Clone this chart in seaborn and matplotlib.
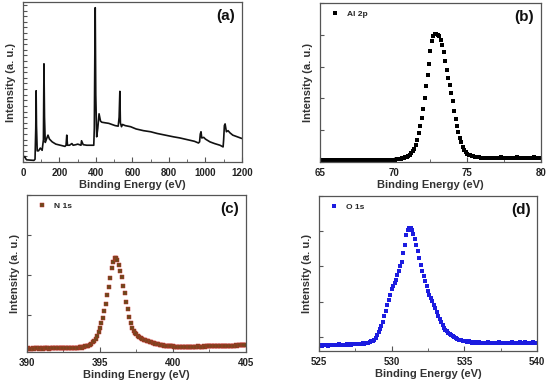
import numpy as np
import matplotlib
matplotlib.use("Agg")
import matplotlib.pyplot as plt
import seaborn as sns
from matplotlib.ticker import MultipleLocator

# ── Style ───────────────────────────────────────────────────
sns.set_theme(style="ticks")
plt.rcParams['font.family'] = ['Liberation Sans', 'DejaVu Sans']
plt.rcParams['font.weight'] = 'bold'

# ── Data: (a) survey spectrum ───────────────────────────────
survey_energy = [0, 5, 10, 15, 20, 40, 60, 66, 70, 72, 74, 78, 85, 95, 105,
                 112, 115, 118, 122, 130, 137, 145, 160, 180, 205, 230, 236,
                 240, 244, 255, 268, 275, 290, 300, 318, 321, 330, 350, 370,
                 388, 391, 394, 396, 399, 404, 410, 417, 425, 432, 450, 470,
                 505, 522, 527, 531, 534, 540, 546, 560, 590, 620, 660, 700,
                 735, 780, 825, 860, 900, 940, 962, 968, 972, 976, 980, 991,
                 1000, 1025, 1050, 1080, 1097, 1100, 1104, 1108, 1115, 1124,
                 1135, 1150, 1175, 1200]
survey_counts = [0.7, 0.9, 1.0, 0.6, 0.4, 0.35, 0.3, 0.5, 6.0, 12.7, 6.5, 2.0,
                 2.0, 2.5, 2.1, 4.0, 17.5, 8.0, 3.5, 4.2, 4.8, 4.1, 3.6, 3.2,
                 3.0, 2.8, 3.0, 4.8, 3.0, 3.0, 3.3, 3.0, 3.1, 3.2, 3.0, 3.8,
                 3.1, 3.0, 3.0, 3.0, 6.0, 20.0, 27.5, 12.0, 4.5, 6.0, 8.6, 7.3,
                 7.1, 7.0, 6.9, 6.5, 6.4, 8.0, 12.6, 7.0, 6.3, 6.7, 6.5, 6.3,
                 5.9, 5.6, 5.4, 5.1, 4.8, 4.5, 4.3, 4.0, 3.7, 3.4, 3.6, 5.0,
                 5.4, 4.3, 4.4, 4.1, 3.6, 3.3, 3.0, 2.7, 4.0, 6.5, 6.8, 5.4,
                 5.6, 5.2, 4.8, 4.5, 4.2]

# ── Data: (b) Al 2p, 65-80 eV, 0.1 eV step ─────────────────
al2p_counts = [
    0.05, 0.06, 0.05, 0.05, 0.04, 0.05, 0.06, 0.05, 0.05, 0.04,
    0.05, 0.05, 0.06, 0.04, 0.05, 0.05, 0.06, 0.05, 0.04, 0.05,
    0.05, 0.06, 0.05, 0.05, 0.06, 0.05, 0.05, 0.06, 0.05, 0.06,
    0.06, 0.05, 0.06, 0.06, 0.05, 0.06, 0.06, 0.07, 0.06, 0.06,
    0.06, 0.07, 0.06, 0.07, 0.07, 0.06, 0.07, 0.07, 0.08, 0.07,
    0.08, 0.08, 0.09, 0.09, 0.10, 0.11, 0.12, 0.13, 0.15, 0.17,
    0.20, 0.23, 0.28, 0.34, 0.42, 0.53, 0.69, 0.90, 1.15, 1.40,
    1.68, 2.02, 2.38, 2.74, 3.10, 3.50, 3.80, 3.95, 4.02, 4.03,
    4.01, 3.95, 3.85, 3.67, 3.45, 3.17, 2.90, 2.65, 2.42, 2.18,
    1.92, 1.62, 1.36, 1.15, 0.95, 0.77, 0.62, 0.48, 0.38, 0.31,
    0.26, 0.23, 0.21, 0.19, 0.18, 0.17, 0.16, 0.15, 0.15, 0.14,
    0.14, 0.13, 0.14, 0.13, 0.14, 0.13, 0.13, 0.14, 0.13, 0.14,
    0.13, 0.14, 0.13, 0.15, 0.13, 0.14, 0.13, 0.14, 0.13, 0.14,
    0.14, 0.13, 0.14, 0.13, 0.15, 0.14, 0.13, 0.14, 0.14, 0.13,
    0.14, 0.13, 0.14, 0.14, 0.13, 0.15, 0.14, 0.13, 0.14, 0.14,
    0.14]

# ── Data: (c) N 1s, 390-405 eV, 0.1 eV step ────────────────
n1s_counts = [
    0.16, 0.17, 0.16, 0.16, 0.17, 0.16, 0.17, 0.17, 0.16, 0.17,
    0.17, 0.16, 0.17, 0.17, 0.17, 0.16, 0.17, 0.17, 0.18, 0.17,
    0.17, 0.18, 0.17, 0.17, 0.18, 0.18, 0.17, 0.18, 0.18, 0.18,
    0.18, 0.18, 0.18, 0.19, 0.19, 0.19, 0.20, 0.20, 0.19, 0.21,
    0.22, 0.23, 0.24, 0.26, 0.28, 0.32, 0.36, 0.41, 0.48, 0.58,
    0.68, 0.80, 0.93, 1.10, 1.28, 1.50, 1.70, 1.92, 2.18, 2.33,
    2.43, 2.42, 2.37, 2.26, 2.10, 1.95, 1.73, 1.55, 1.34, 1.15,
    0.96, 0.80, 0.69, 0.61, 0.56, 0.52, 0.49, 0.45, 0.43, 0.41,
    0.39, 0.37, 0.36, 0.35, 0.33, 0.32, 0.31, 0.30, 0.29, 0.28,
    0.27, 0.26, 0.26, 0.25, 0.24, 0.24, 0.23, 0.23, 0.22, 0.22,
    0.22, 0.21, 0.21, 0.21, 0.21, 0.20, 0.21, 0.21, 0.20, 0.21,
    0.21, 0.21, 0.20, 0.21, 0.21, 0.21, 0.21, 0.22, 0.21, 0.21,
    0.21, 0.22, 0.21, 0.22, 0.22, 0.22, 0.22, 0.22, 0.23, 0.22,
    0.23, 0.22, 0.23, 0.23, 0.23, 0.24, 0.23, 0.23, 0.24, 0.24,
    0.24, 0.24, 0.24, 0.25, 0.24, 0.25, 0.25, 0.25, 0.25, 0.25,
    0.25]

# ── Data: (d) O 1s, 525-540 eV, 0.1 eV step ────────────────
o1s_counts = [
    0.76, 0.77, 0.75, 0.76, 0.78, 0.76, 0.75, 0.77, 0.78, 0.76,
    0.77, 0.76, 0.78, 0.77, 0.79, 0.76, 0.77, 0.78, 0.77, 0.79,
    0.78, 0.80, 0.78, 0.79, 0.81, 0.80, 0.79, 0.81, 0.80, 0.81,
    0.82, 0.81, 0.82, 0.84, 0.84, 0.85, 0.87, 0.89, 0.92, 0.98,
    1.06, 1.13, 1.22, 1.32, 1.43, 1.58, 1.74, 1.90, 2.04, 2.18,
    2.35, 2.45, 2.52, 2.62, 2.75, 2.88, 3.00, 3.12, 3.37, 3.60,
    3.90, 4.03, 4.10, 4.09, 4.04, 3.93, 3.78, 3.62, 3.45, 3.25,
    3.04, 2.86, 2.74, 2.58, 2.44, 2.31, 2.20, 2.11, 2.01, 1.91,
    1.82, 1.71, 1.60, 1.50, 1.41, 1.33, 1.25, 1.20, 1.16, 1.12,
    1.08, 1.05, 1.02, 0.99, 0.97, 0.94, 0.92, 0.91, 0.90, 0.89,
    0.88, 0.87, 0.86, 0.87, 0.85, 0.84, 0.86, 0.85, 0.83, 0.84,
    0.85, 0.83, 0.84, 0.82, 0.84, 0.83, 0.85, 0.83, 0.82, 0.84,
    0.83, 0.84, 0.82, 0.83, 0.85, 0.83, 0.84, 0.82, 0.83, 0.84,
    0.84, 0.82, 0.83, 0.85, 0.84, 0.82, 0.83, 0.84, 0.86, 0.83,
    0.84, 0.83, 0.85, 0.84, 0.82, 0.84, 0.83, 0.85, 0.84, 0.83,
    0.84]

# energy grids of the high-resolution scans (0.1 eV step)
al2p_energy = np.round(np.linspace(65, 80, len(al2p_counts)), 1)
n1s_energy = np.round(np.linspace(390, 405, len(n1s_counts)), 1)
o1s_energy = np.round(np.linspace(525, 540, len(o1s_counts)), 1)

# ── Figure ──────────────────────────────────────────────────
fig = plt.figure(figsize=(5.5, 3.85), dpi=100)
ax_a = fig.add_axes([0.0418, 0.579, 0.398, 0.4156])
ax_b = fig.add_axes([0.5818, 0.579, 0.4018, 0.413])
ax_c = fig.add_axes([0.0491, 0.0857, 0.398, 0.4078])
ax_d = fig.add_axes([0.58, 0.0883, 0.3964, 0.4026])

# (a) survey
sns.lineplot(x=survey_energy, y=survey_counts, ax=ax_a, color='#111111',
             linewidth=1.2, estimator=None, sort=False)

# (b)-(d) high resolution scans
sns.scatterplot(x=al2p_energy, y=al2p_counts, ax=ax_b, marker='s', s=6,
                color='black', linewidth=0, label='Al 2p')
sns.scatterplot(x=n1s_energy, y=n1s_counts, ax=ax_c, marker='s', s=6,
                color='#6a4a1c', edgecolor='#c0302a', linewidth=0.35,
                label='N 1s')
sns.scatterplot(x=o1s_energy, y=o1s_counts, ax=ax_d, marker='s', s=6,
                color='#1c1ce0', linewidth=0, label='O 1s')

panels = [
    (ax_a, (0, 1200), (0, 28.5), 200, 100, 1, '(a)'),
    (ax_b, (65, 80), (0, 5.0), 5, 2.5, 1, '(b)'),
    (ax_c, (390, 405), (0.08, 4.0), 5, 2.5, 1, '(c)'),
    (ax_d, (525, 540), (0.6, 5.0), 5, 2.5, 1, '(d)'),
]

for ax, xl, yl, xmaj, xmin, ymaj, tag in panels:
    ax.set_xlim(*xl)
    ax.set_ylim(*yl)
    ax.xaxis.set_major_locator(MultipleLocator(xmaj))
    ax.xaxis.set_minor_locator(MultipleLocator(xmin))
    ax.yaxis.set_major_locator(MultipleLocator(ymaj))
    ax.tick_params(axis='x', which='major', direction='in', length=3.5,
                   width=0.8, labelsize=7, pad=4, color='#555555',
                   labelcolor='#222222', top=False)
    ax.tick_params(axis='x', which='minor', direction='in', length=2,
                   width=0.6, color='#555555')
    ax.tick_params(axis='y', which='major', direction='in', length=3,
                   width=0.8, labelleft=False, color='#555555')
    for lbl in ax.get_xticklabels():
        lbl.set_fontweight('bold')
    for sp in ax.spines.values():
        sp.set_visible(True)
        sp.set_color('#555555')
        sp.set_linewidth(0.9)
    ax.set_xlabel('Binding Energy (eV)', fontsize=8, fontweight='bold',
                  color='#333333', labelpad=2)
    ax.set_ylabel('Intensity (a. u.)', fontsize=8, fontweight='bold',
                  color='#333333', labelpad=5)
    ax.text(0.925, 0.91, tag, transform=ax.transAxes, fontsize=11,
            fontweight='bold', ha='center', va='center', color='#111111')
    if ax.get_legend() is not None:
        ax.legend(loc='upper left', frameon=False,
                  prop={'weight': 'bold', 'size': 6}, handletextpad=0.4,
                  borderaxespad=0.4, markerscale=1.0)

fig.savefig('out.png', dpi=100)
